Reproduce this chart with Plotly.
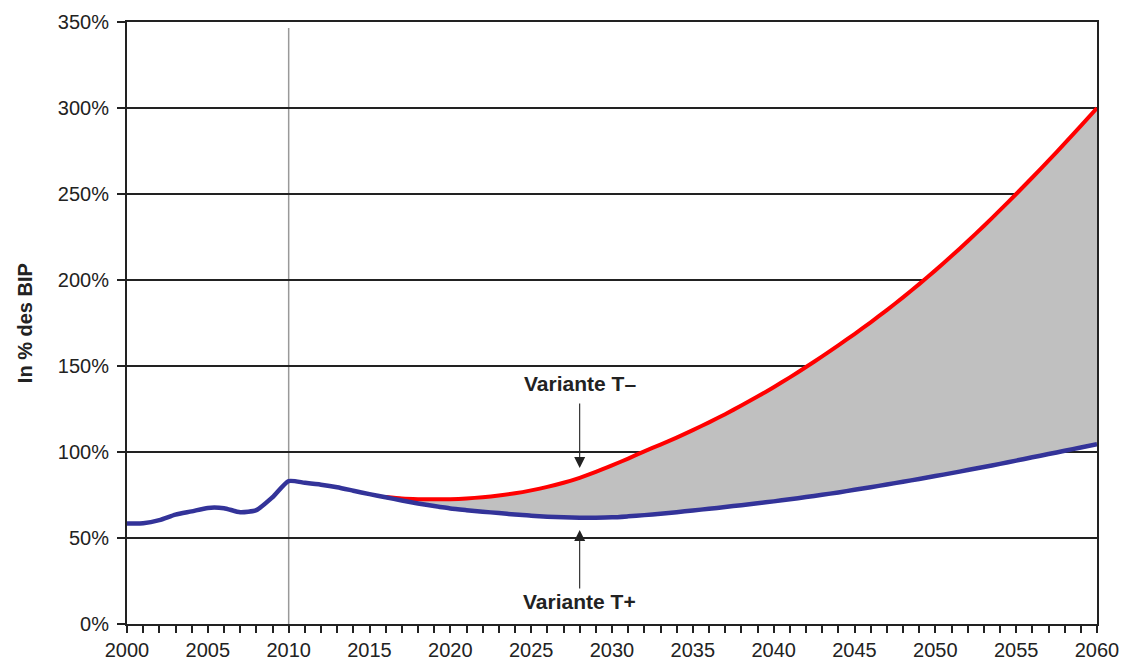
import plotly.graph_objects as go

years = list(range(2000, 2061))

# Variante T+ (blue), full series 2000-2060, % of GDP
blue_values = [
    58.5, 58.6, 60.4, 63.6, 65.5, 67.5, 67.3, 65.0, 66.2, 73.7,
    83.1, 82.1, 81.0, 79.5, 77.5, 75.5, 73.7, 71.8, 70.1, 68.6,
    67.2, 66.2, 65.3, 64.5, 63.6, 63.0, 62.4, 62.0, 61.8, 61.8,
    62.0, 62.6, 63.3, 64.1, 65.0, 66.0, 67.0, 68.0, 69.1, 70.2,
    71.3, 72.5, 73.8, 75.1, 76.5, 78.0, 79.5, 81.1, 82.7, 84.3,
    86.0, 87.7, 89.5, 91.3, 93.1, 95.0, 96.9, 98.8, 100.7, 102.6,
    104.5,
]

# Variante T- (red), 2016-2060
red_years = list(range(2016, 2061))
red_values = [
    73.9, 73.0, 72.6, 72.5, 72.6, 73.0, 73.7, 74.7, 76.0, 77.7,
    79.7, 82.1, 85.0, 88.4, 92.2, 96.2, 100.4, 104.3, 108.4, 112.7,
    117.2, 122.0, 127.0, 132.2, 137.7, 143.4, 149.4, 155.6, 162.0, 168.6,
    175.4, 182.5, 189.9, 197.6, 205.6, 213.9, 222.5, 231.4, 240.6, 250.0,
    259.6, 269.4, 279.4, 289.6, 300.0,
]

y_ticks = [0, 50, 100, 150, 200, 250, 300, 350]
y_tick_labels = ["0%", "50%", "100%", "150%", "200%", "250%", "300%", "350%"]
x_ticks = list(range(2000, 2061, 5))

label_minus = "Variante T\u2013"
label_plus = "Variante T+"
y_title = "In % des BIP"

base_start = years.index(red_years[0])

fig = go.Figure()

# invisible base for the shaded band
fig.add_trace(go.Scatter(
    x=red_years, y=blue_values[base_start:], mode="lines",
    line=dict(width=0, color="rgba(0,0,0,0)", shape="spline", smoothing=0.6),
    hoverinfo="skip", showlegend=False,
))
fig.add_trace(go.Scatter(
    x=red_years, y=red_values, mode="lines", fill="tonexty",
    fillcolor="#c0c0c0", line=dict(color="#ff0000", width=4, shape="spline", smoothing=0.6),
    showlegend=False, name=label_minus,
))
fig.add_trace(go.Scatter(
    x=years, y=blue_values, mode="lines",
    line=dict(color="#333399", width=4.5, shape="spline", smoothing=0.6),
    showlegend=False, name=label_plus,
))

fig.add_shape(type="line", xref="x", yref="paper", x0=2010, x1=2010, y0=0, y1=0.99,
              line=dict(color="#999999", width=1.5), layer="below")

font_main = "Liberation Sans, Arial, sans-serif"

fig.add_annotation(x=2028, y=140, text="<b>" + label_minus + "</b>", showarrow=False,
                   font=dict(family=font_main, size=21, color="#222222"))
fig.add_annotation(x=2028, y=12.8, text="<b>" + label_plus + "</b>", showarrow=False,
                   font=dict(family=font_main, size=21, color="#222222"))
fig.add_annotation(x=2028, y=90.7, ax=2028, ay=129, axref="x", ayref="y", xref="x", yref="y",
                   text="", showarrow=True, arrowhead=2, arrowsize=2, arrowwidth=1.1,
                   arrowcolor="#222222")
fig.add_annotation(x=2028, y=54.7, ax=2028, ay=19.8, axref="x", ayref="y", xref="x", yref="y",
                   text="", showarrow=True, arrowhead=2, arrowsize=2, arrowwidth=1.1,
                   arrowcolor="#222222")
fig.add_annotation(xref="paper", yref="paper", x=-0.105, y=0.5, xanchor="center", yanchor="middle",
                   textangle=-90, text="<b>" + y_title + "</b>", showarrow=False,
                   font=dict(family=font_main, size=20, color="#222222"))

fig.update_layout(
    width=1125, height=666,
    margin=dict(l=127, r=28, t=22, b=42),
    paper_bgcolor="white", plot_bgcolor="white",
    font=dict(family=font_main, size=20, color="#222222"),
)
fig.update_xaxes(
    range=[2000, 2060], tickmode="array", tickvals=x_ticks, automargin=False,
    ticks="outside", ticklen=7, tickcolor="#222222", tickwidth=1.5,
    minor=dict(dtick=1, ticks="outside", ticklen=7, tickcolor="#222222", tickwidth=1.5, showgrid=False),
    showgrid=False, showline=True, linecolor="#222222", linewidth=2, mirror=True,
    zeroline=False, tickfont=dict(size=20),
)
fig.update_yaxes(
    range=[0, 350], tickmode="array", tickvals=y_ticks, ticktext=y_tick_labels, automargin=False,
    ticks="outside", ticklen=8, tickcolor="#222222", tickwidth=1.5,
    showgrid=True, gridcolor="#222222", gridwidth=1.5,
    showline=True, linecolor="#222222", linewidth=2, mirror=True, zeroline=False,
    tickfont=dict(size=20), ticklabelstandoff=4,
)

fig.write_html(
    "out.html",
    config={"displayModeBar": False},
    post_script="document.body.style.margin='0';document.body.style.overflow='hidden';",
)
